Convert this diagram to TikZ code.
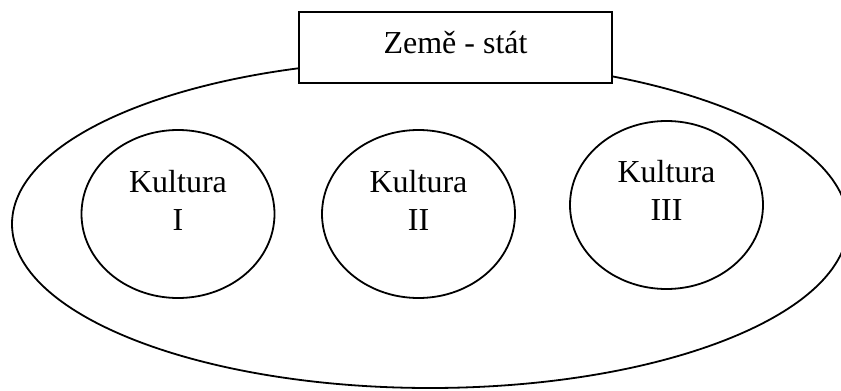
\documentclass[tikz,border=0pt]{standalone}
\usepackage{fontspec}
\setmainfont{Liberation Serif}
\usetikzlibrary{shapes.geometric}

\tikzset{
  outline/.style={draw=black, line width=1.8pt},
  region/.style={outline, ellipse, inner sep=0pt},
  culture/.style={region, minimum width=193pt, minimum height=168pt},
  caption/.style={align=center, inner sep=0pt,
    font=\fontsize{32}{38}\selectfont},
  titlebox/.style={outline, fill=white, minimum width=313pt,
    minimum height=71pt, inner sep=0pt,
    font=\fontsize{32}{38}\selectfont}
}

\begin{document}
\begin{tikzpicture}[x=1pt, y=-1pt]
  \useasboundingbox (0,0) rectangle (841,391);
  \clip (0,0) rectangle (841,391);

  % the state: one large ellipse holding the cultures
  \node[region, minimum width=836pt, minimum height=328pt] (stat) at (430,224) {};

  % the three cultures
  \node[culture] (k1) at (178,214) {};
  \node[culture] (k2) at (418.5,214) {};
  \node[culture] (k3) at (666.5,205) {};

  % captions: base anchor sits on the baseline of the last line
  \node[caption, anchor=base] (t1) at ([yshift=-16pt]k1.center) {Kultura\\I};
  \node[caption, anchor=base] (t2) at ([yshift=-16pt]k2.center) {Kultura\\II};
  \node[caption, anchor=base] (t3) at ([yshift=-15pt]k3.center) {Kultura\\III};

  % title box over the top of the ellipse
  \node[titlebox] (zeme) at (455.5,47.5) {};
  \node[caption, anchor=base] (zt) at (455.5,53) {Země - stát};
\end{tikzpicture}
\end{document}
